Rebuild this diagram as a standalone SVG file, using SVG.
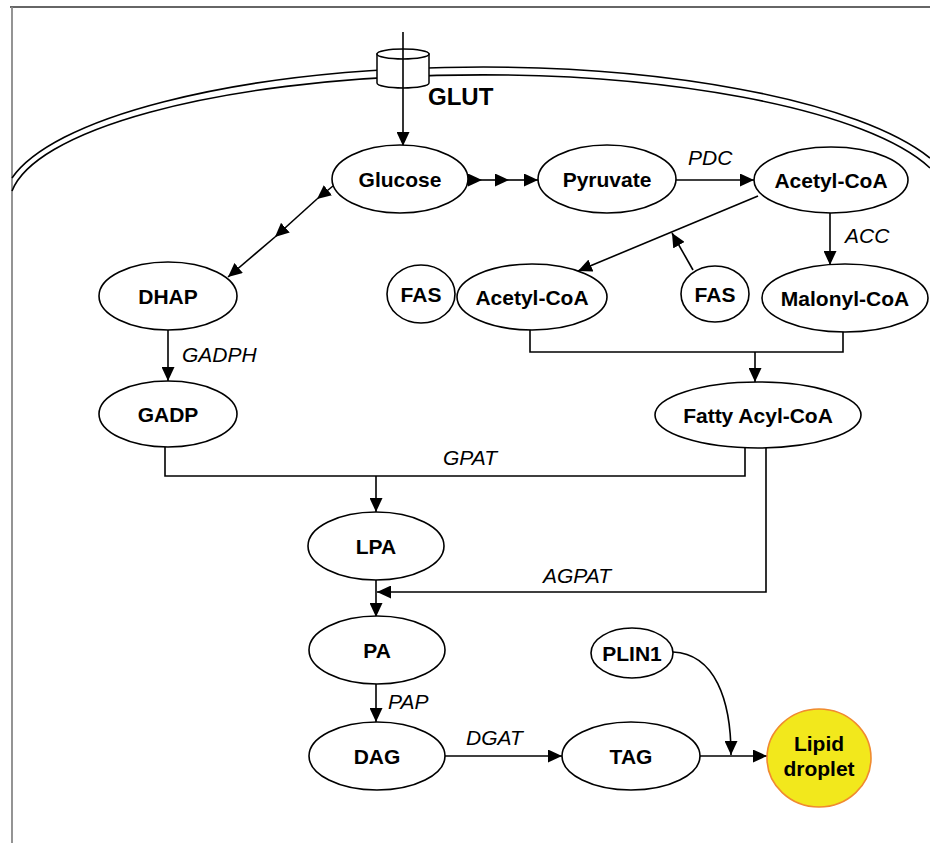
<svg xmlns="http://www.w3.org/2000/svg" width="930" height="843" viewBox="0 0 930 843">
<defs>
<style>
.n{fill:#fff;stroke:#000;stroke-width:1.6}
.t{font-family:"Liberation Sans",Arial,sans-serif;font-weight:bold;font-size:21px;text-anchor:middle;fill:#000}
.l{font-family:"Liberation Sans",Arial,sans-serif;font-style:italic;font-size:21px;fill:#000}
.c{fill:none;stroke:#000;stroke-width:1.6}
.m{fill:none;stroke:#000;stroke-width:1.6}
</style>
<marker id="a" markerUnits="userSpaceOnUse" markerWidth="15" markerHeight="13" viewBox="0 0 15 13" refX="14" refY="6.5" orient="auto">
<path d="M0,0 L14,6.5 L0,13 z" fill="#000"/>
</marker>
</defs>
<rect width="930" height="843" fill="#fff"/>
<line x1="10" y1="7" x2="930" y2="7" stroke="#333" stroke-width="1.5"/>
<line x1="12" y1="7" x2="12" y2="843" stroke="#888" stroke-width="1.8"/>
<g id="membrane">
<path class="m" d="M12,178 A478,138 0 0 1 930,158"/>
<path class="m" d="M12,191 A470,130 0 0 1 930,168"/>
</g>
<g id="glut">
<path d="M377,54 L377,83 A26,5 0 0 0 429,83 L429,54 Z" fill="#fff" stroke="#000" stroke-width="1.5"/>
<ellipse cx="403" cy="54" rx="26" ry="5" fill="#fff" stroke="#000" stroke-width="1.5"/>
<text x="428" y="105" font-family="Liberation Sans,Arial,sans-serif" font-weight="bold" font-size="24">GLUT</text>
</g>
<g id="connectors">
<line class="c" x1="403" y1="32" x2="403" y2="146" marker-end="url(#a)"/>
<line class="c" x1="468" y1="180" x2="482" y2="180" marker-end="url(#a)"/>
<line class="c" x1="482" y1="180" x2="509" y2="180" marker-end="url(#a)"/>
<line class="c" x1="509" y1="180" x2="538" y2="180" marker-end="url(#a)"/>
<line class="c" x1="676" y1="180" x2="754" y2="180" marker-end="url(#a)"/>
<line class="c" x1="333" y1="186" x2="317" y2="199" marker-end="url(#a)"/>
<line class="c" x1="317" y1="199" x2="275" y2="237" marker-end="url(#a)"/>
<line class="c" x1="275" y1="237" x2="228" y2="277" marker-end="url(#a)"/>
<line class="c" x1="830" y1="213" x2="830" y2="265" marker-end="url(#a)"/>
<line class="c" x1="758" y1="196" x2="578" y2="271" marker-end="url(#a)"/>
<line class="c" x1="693" y1="270" x2="672" y2="233" marker-end="url(#a)"/>
<line class="c" x1="168" y1="330" x2="168" y2="381" marker-end="url(#a)"/>
<path class="c" d="M530,330 V352 H843 V331"/>
<line class="c" x1="755" y1="352" x2="755" y2="382" marker-end="url(#a)"/>
<path class="c" d="M165,447 V476 H745 V447"/>
<line class="c" x1="376" y1="476" x2="376" y2="512" marker-end="url(#a)"/>
<path class="c" d="M766,447 V592 H377" marker-end="url(#a)"/>
<line class="c" x1="376" y1="580" x2="376" y2="617" marker-end="url(#a)"/>
<line class="c" x1="376" y1="684" x2="376" y2="722" marker-end="url(#a)"/>
<line class="c" x1="445" y1="756" x2="562" y2="756" marker-end="url(#a)"/>
<line class="c" x1="700" y1="756" x2="767" y2="756" marker-end="url(#a)"/>
<path class="c" d="M673,652 C715,654 731,700 731,755" marker-end="url(#a)"/>
<text class="l" x="688" y="165">PDC</text>
<text class="l" x="845" y="243">ACC</text>
<text class="l" x="182" y="362">GADPH</text>
<text class="l" x="443" y="465">GPAT</text>
<text class="l" x="543" y="583">AGPAT</text>
<text class="l" x="388" y="709">PAP</text>
<text class="l" x="466" y="745">DGAT</text>
</g>
<g id="glucose"><ellipse class="n" cx="400" cy="179" rx="68" ry="34"/><text class="t" x="400" y="187">Glucose</text></g>
<g id="pyruvate"><ellipse class="n" cx="607" cy="179" rx="69" ry="34"/><text class="t" x="607" y="187">Pyruvate</text></g>
<g id="acetylcoa1"><ellipse class="n" cx="831" cy="180" rx="77" ry="33"/><text class="t" x="831" y="188">Acetyl-CoA</text></g>
<g id="dhap"><ellipse class="n" cx="168" cy="296" rx="69" ry="34"/><text class="t" x="168" y="304">DHAP</text></g>
<g id="fas1"><ellipse class="n" cx="421" cy="294" rx="34" ry="29"/><text class="t" x="421" y="302">FAS</text></g>
<g id="acetylcoa2"><ellipse class="n" cx="532" cy="297" rx="75" ry="33"/><text class="t" x="532" y="305">Acetyl-CoA</text></g>
<g id="fas2"><ellipse class="n" cx="715" cy="294" rx="34" ry="28"/><text class="t" x="715" y="302">FAS</text></g>
<g id="malonylcoa"><ellipse class="n" cx="845" cy="298" rx="83" ry="34"/><text class="t" x="845" y="306">Malonyl-CoA</text></g>
<g id="gadp"><ellipse class="n" cx="168" cy="414" rx="69" ry="33"/><text class="t" x="168" y="422">GADP</text></g>
<g id="fattyacylcoa"><ellipse class="n" cx="758" cy="415" rx="103" ry="33"/><text class="t" x="758" y="423">Fatty Acyl-CoA</text></g>
<g id="lpa"><ellipse class="n" cx="376" cy="546" rx="68" ry="34"/><text class="t" x="376" y="554">LPA</text></g>
<g id="pa"><ellipse class="n" cx="377" cy="650" rx="68" ry="34"/><text class="t" x="377" y="658">PA</text></g>
<g id="dag"><ellipse class="n" cx="377" cy="756" rx="68" ry="34"/><text class="t" x="377" y="764">DAG</text></g>
<g id="tag"><ellipse class="n" cx="631" cy="756" rx="69" ry="34"/><text class="t" x="631" y="764">TAG</text></g>
<g id="plin1"><ellipse class="n" cx="632" cy="653" rx="41" ry="25"/><text class="t" x="632" y="661">PLIN1</text></g>
<g id="lipiddroplet"><ellipse cx="819" cy="758" rx="52" ry="49" fill="#f2e81c" stroke="#f08a30" stroke-width="1.6"/><text class="t" x="819" y="751">Lipid</text><text class="t" x="819" y="776">droplet</text></g>
</svg>
